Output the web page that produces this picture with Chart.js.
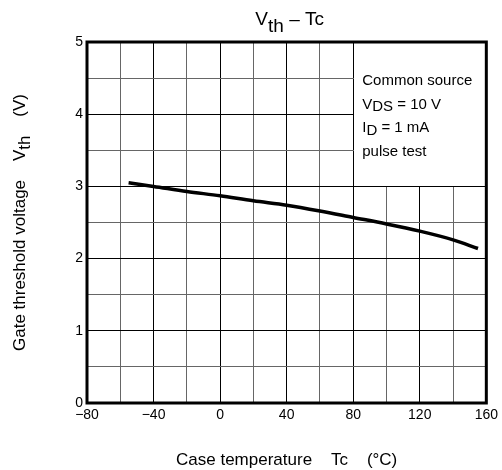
<!DOCTYPE html>
<html>
<head>
<meta charset="utf-8">
<script src="https://cdn.jsdelivr.net/npm/chart.js@4.4.0/dist/chart.umd.min.js"></script>
<style>
  html, body { margin: 0; padding: 0; background: #fff; }
  canvas { display: block; }
</style>
</head>
<body>
<canvas id="vthChart" width="502" height="470"></canvas>
<script>
// values
const temps = [-55, -40, -20, 0, 20, 40, 60, 80, 100, 120, 140, 155];
const vth = [3.05, 3.00, 2.93, 2.87, 2.80, 2.74, 2.66, 2.57, 2.48, 2.38, 2.26, 2.14];

const xTicks = [-80, -40, 0, 40, 80, 120, 160];
const yTicks = [0, 1, 2, 3, 4, 5];

// [text, subscript, rest]
const noteLines = [
  ['Common source', '', ''],
  ['V', 'DS', ' = 10 V'],
  ['I', 'D', ' = 1 mA'],
  ['pulse test', '', '']
];

const FONT = '"Liberation Sans", Arial, Helvetica, sans-serif';
Chart.defaults.font.family = FONT;
Chart.defaults.color = '#000';

// draws text pieces, "true" pieces are dropped down like a subscript
const drawPieces = (ctx, pieces, x, baseline, drop, centered) => {
  const total = pieces.reduce((w, p) => w + ctx.measureText(p[0]).width, 0);
  let px = centered ? x - total / 2 : x;
  ctx.textAlign = 'left';
  ctx.textBaseline = 'alphabetic';
  pieces.forEach(([text, sub]) => {
    ctx.fillText(text, px, baseline + (sub ? drop : 0));
    px += ctx.measureText(text).width;
  });
};

const extras = {
  id: 'extras',
  beforeDatasetsDraw(chart) {
    const {ctx, chartArea, scales: {x, y}} = chart;
    // white box for the test conditions
    const left = Math.round(x.getPixelForValue(80) - 0.5) + 1;
    const bottom = Math.round(y.getPixelForValue(3) - 0.5);
    ctx.save();
    ctx.fillStyle = '#fff';
    ctx.fillRect(left, chartArea.top, chartArea.right - left, bottom - chartArea.top);
    ctx.restore();
  },
  afterDraw(chart) {
    const {ctx, chartArea, scales: {x, y}} = chart;
    ctx.save();
    ctx.fillStyle = '#000';

    // frame
    ctx.strokeStyle = '#000';
    ctx.lineWidth = 3;
    ctx.strokeRect(chartArea.left, chartArea.top, chartArea.right - chartArea.left, chartArea.bottom - chartArea.top);

    // conditions text
    ctx.font = '15px ' + FONT;
    const noteX = x.getPixelForValue(80) + 9;
    noteLines.forEach((line, i) => {
      drawPieces(ctx, [[line[0], false], [line[1], true], [line[2], false]], noteX, chartArea.top + 43 + i * 23.7, 2.5, false);
    });

    const midX = (chartArea.left + chartArea.right) / 2;
    const midY = (chartArea.top + chartArea.bottom) / 2;

    // title
    ctx.font = '19px ' + FONT;
    drawPieces(ctx, [['V', false], ['th', true], [' \u2013 Tc', false]], midX + 3, 25, 6.5, true);

    // x axis title
    ctx.font = '17px ' + FONT;
    drawPieces(ctx, [['Case temperature    Tc    (\u00b0C)', false]], midX, 465, 0, true);

    // y axis title
    ctx.translate(25, midY);
    ctx.rotate(-Math.PI / 2);
    drawPieces(ctx, [['Gate threshold voltage    V', false], ['th', true], ['    (V)', false]], 0, 0, 5, true);

    ctx.restore();
  }
};

const ctx = document.getElementById('vthChart').getContext('2d');

const vthChart = new Chart(ctx, {
  type: 'line',
  data: {
    datasets: [{
      data: temps.map((t, i) => ({x: t, y: vth[i]})),
      borderColor: '#000',
      borderWidth: 3.5,
      pointRadius: 0,
      fill: false,
      cubicInterpolationMode: 'monotone'
    }]
  },
  options: {
    responsive: false,
    animation: false,
    layout: {
      padding: {top: 42, right: 14, left: 0, bottom: 0}
    },
    plugins: {
      legend: {display: false},
      tooltip: {enabled: false}
    },
    scales: {
      x: {
        type: 'linear',
        min: -80,
        max: 160,
        afterFit: (scale) => { scale.height = 67; },
        border: {display: false},
        grid: {
          drawTicks: false,
          lineWidth: 1,
          color: (c) => xTicks.includes(c.tick.value) ? '#000' : '#666'
        },
        ticks: {
          stepSize: 20,
          autoSkip: false,
          maxRotation: 0,
          padding: 4,
          font: {size: 14},
          callback: (v) => xTicks.includes(v) ? (v < 0 ? '\u2212' + (-v) : String(v)) : ''
        }
      },
      y: {
        min: 0,
        max: 5,
        afterFit: (scale) => { scale.width = 87; },
        border: {display: false},
        grid: {
          drawTicks: false,
          lineWidth: 1,
          color: (c) => yTicks.includes(c.tick.value) ? '#000' : '#666'
        },
        ticks: {
          stepSize: 0.5,
          autoSkip: false,
          padding: 4,
          font: {size: 14},
          callback: (v) => yTicks.includes(v) ? String(v) : ''
        }
      }
    }
  },
  plugins: [extras]
});
</script>
</body>
</html>
